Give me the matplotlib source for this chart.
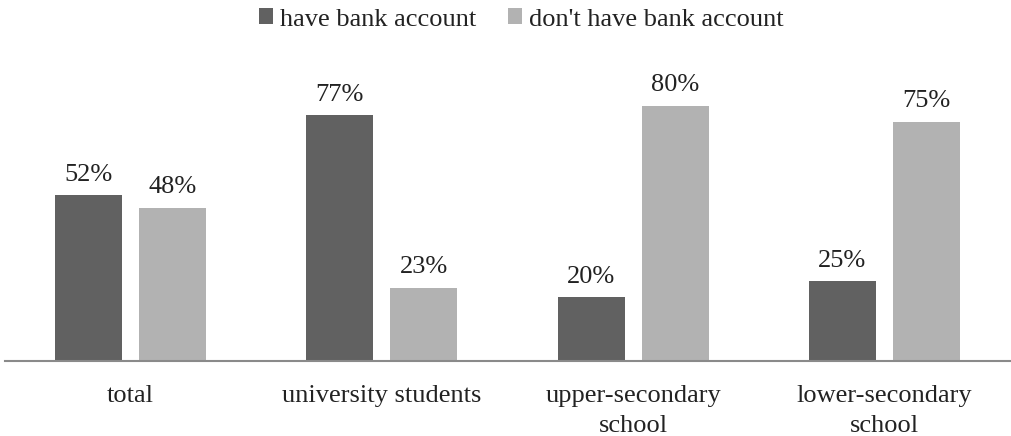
import matplotlib
matplotlib.use("Agg")
import matplotlib.pyplot as plt
import numpy as np

categories = ["total", "university students", "upper-secondary\nschool", "lower-secondary\nschool"]
have_account = [52, 77, 20, 25]
no_account = [48, 23, 80, 75]
series_names = ["have bank account", "don't have bank account"]

plt.rcParams["font.family"] = ["Liberation Serif", "DejaVu Serif"]

fig = plt.figure(figsize=(10.12, 4.36), dpi=100)
ax = fig.add_axes([5 / 1012, 75 / 436, 1005 / 1012, 319 / 436])

x = np.arange(len(categories))
w = 0.267
off = 0.167
dark = "#616161"
light = "#b2b2b2"
fs = 19
b1 = ax.bar(x - off, have_account, w, color=dark, label=series_names[0])
b2 = ax.bar(x + off, no_account, w, color=light, label=series_names[1])

for bars, vals in ((b1, have_account), (b2, no_account)):
    for r, v in zip(bars, vals):
        ax.text(r.get_x() + r.get_width() / 2, v + 3.0, f"{v}%", ha="center",
                va="bottom", fontsize=fs, color="#222222")

ax.set_xlim(-0.5, len(categories) - 0.5)
ax.set_ylim(0, 100)
ax.set_yticks([])
ax.set_xticks(x)
ax.set_xticklabels(categories, fontsize=fs, color="#222222", linespacing=1.5)
ax.tick_params(axis="x", length=0, pad=17)
for s in ("top", "right", "left"):
    ax.spines[s].set_visible(False)
ax.spines["bottom"].set_color("#8a8a8a")
ax.spines["bottom"].set_linewidth(1.5)

fig.legend(loc="upper center", bbox_to_anchor=(0.515, 1.035), ncol=2, frameon=False,
           fontsize=fs, handlelength=0.55, handleheight=0.55, handletextpad=0.25,
           columnspacing=1.2, labelcolor="#222222")

fig.savefig("out.png", dpi=100)
